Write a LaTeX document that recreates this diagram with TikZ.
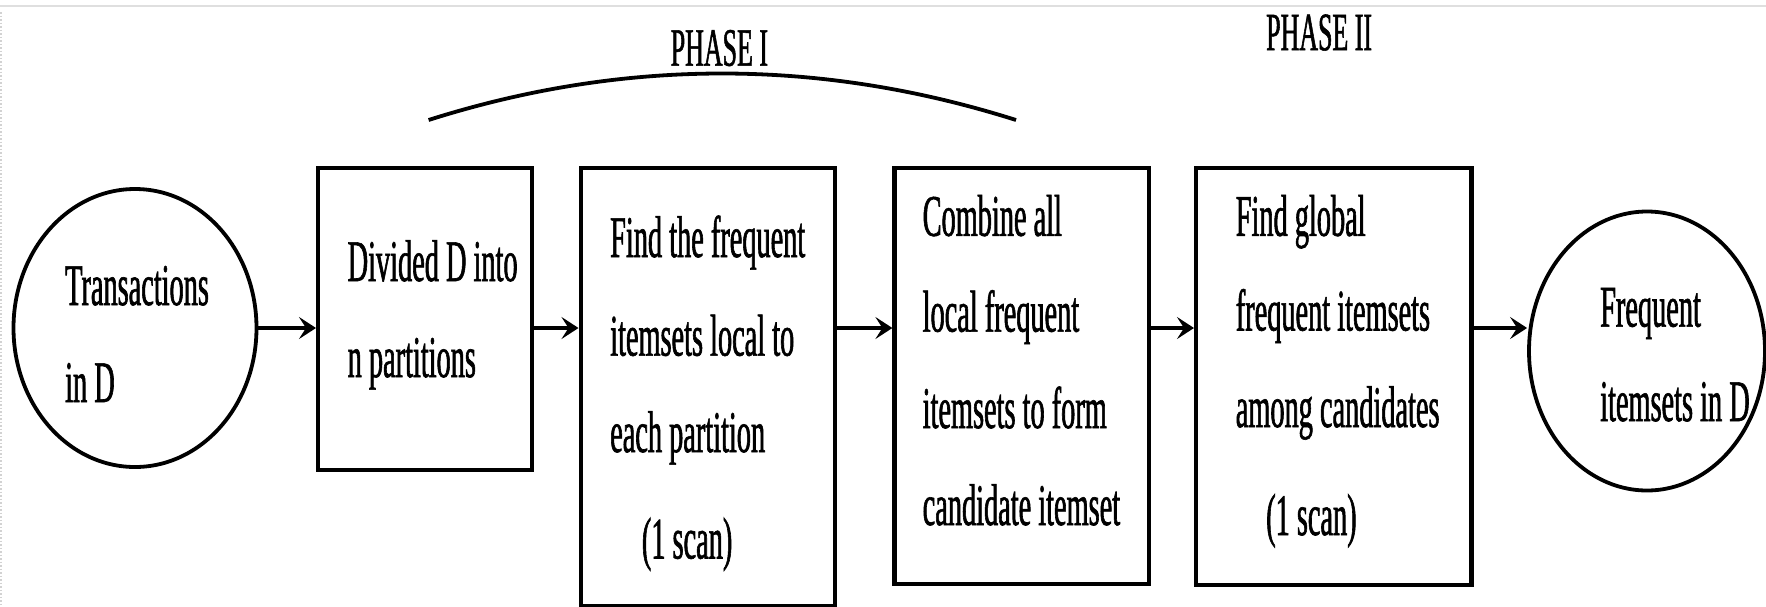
\documentclass[tikz,border=0pt]{standalone}
\usepackage{fontspec}
\setmainfont{Liberation Serif}[FakeStretch=0.48,FakeBold=1]
\usetikzlibrary{arrows.meta,shapes.geometric}

\tikzset{
  stepbox/.style={draw, line width=4.2pt, rectangle, anchor=north west, inner sep=0pt},
  blob/.style={draw, line width=3.8pt, ellipse, inner sep=0pt},
  txt/.style={anchor=base west, inner sep=0pt, font=\fontsize{59}{98}\selectfont},
  phase/.style={anchor=base west, inner sep=0pt, font=\fontsize{54}{60}\selectfont},
  arr/.style={line width=4.2pt, -{Stealth[length=17pt,width=22pt,inset=7pt]}},
}

\begin{document}
\begin{tikzpicture}[x=1pt,y=-1pt]
\useasboundingbox (0,0) rectangle (1766,606);

% frame of the page
\draw[gray!25, line width=2pt] (0,6) -- (1766,6);
\draw[gray!35, dotted, line width=1.5pt] (1,12) -- (1,606);

% process shapes
\node[blob, minimum width=243pt, minimum height=278pt] (src) at (135,328) {};
\node[stepbox, minimum width=214pt, minimum height=302pt] (b1) at (316,166) {};
\node[stepbox, minimum width=254.5pt, minimum height=438pt] (b2) at (578.5,166) {};
\node[stepbox, minimum width=254.6pt, minimum height=416pt] (b3) at (892.4,166) {};
\node[stepbox, minimum width=275.4pt, minimum height=417pt] (b4) at (1194,166) {};
\node[blob, minimum width=236pt, minimum height=279pt] (out) at (1647,351) {};

% texts
\node[txt] (s1) at (65,305) {Transactions};
\node[txt] (s2) at (65,402) {in D};

\node[txt] (d1) at (347.5,281) {Divided D into};
\node[txt] (d2) at (347.5,377) {n partitions};

\node[txt] (f1) at (610,257) {Find the frequent};
\node[txt] (f2) at (610,355.6) {itemsets local to};
\node[txt] (f3) at (610,452) {each partition};
\node[txt] (f4) at (641.7,558.5) {(1 scan)};

\node[txt] (c1) at (922.5,235.8) {Combine all};
\node[txt] (c2) at (922.5,331.6) {local frequent};
\node[txt] (c3) at (922.5,428) {itemsets to form};
\node[txt] (c4) at (922.5,525) {candidate itemset};

\node[txt] (g1) at (1235.6,235.8) {Find global};
\node[txt] (g2) at (1235.6,330.5) {frequent itemsets};
\node[txt] (g3) at (1235.6,427) {among candidates};
\node[txt] (g4) at (1266,535) {(1 scan)};

\node[txt] (o1) at (1600,326.6) {Frequent};
\node[txt] (o2) at (1600,421) {itemsets in D};

% phase labels and brace
\node[phase] (ph1) at (670.6,65.7) {PHASE I};
\node[phase] (ph2) at (1266,50.2) {PHASE II};
\coordinate (arcL) at (428.6,120);
\coordinate (arcR) at (1016,120);
\draw[line width=3.8pt] (arcL) .. controls (624,58) and (820,58) .. (arcR);

% flow
\draw[arr] (src.east) -- (src.east -| b1.west);
\draw[arr] (b1.east |- src.east) -- (b2.west |- src.east);
\draw[arr] (b2.east |- src.east) -- (b3.west |- src.east);
\draw[arr] (b3.east |- src.east) -- (b4.west |- src.east);
\draw[arr] (b4.east |- src.east) -- (out.west |- src.east);
\end{tikzpicture}
\end{document}
